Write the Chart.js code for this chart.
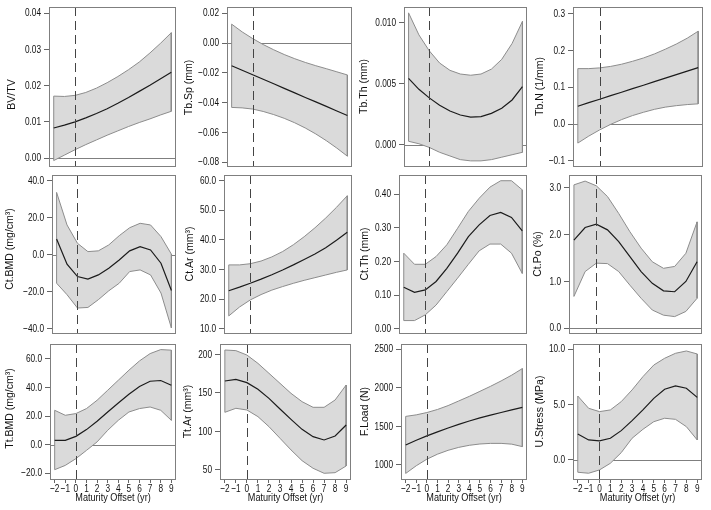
<!DOCTYPE html>
<html>
<head>
<meta charset="utf-8">
<script src="https://cdn.jsdelivr.net/npm/chart.js@4/dist/chart.umd.min.js"></script>
<style>
  html, body { margin: 0; padding: 0; background: #fff; }
  #fig { position: relative; width: 711px; height: 510px; overflow: hidden; }
  #fig canvas { position: absolute; }
</style>
</head>
<body>
<div id="fig"></div>
<script>
// maturity offset (yr) at which the fitted curves were read
const offsets = [-2, -1, 0, 1, 2, 3, 4, 5, 6, 7, 8, 9];
const xTicks = [-2, -1, 0, 1, 2, 3, 4, 5, 6, 7, 8, 9];
const xTitle = "Maturity Offset (yr)";

const bvtvFit = [0.0083, 0.0091, 0.0100, 0.0111, 0.0123, 0.0136, 0.0151, 0.0167, 0.0184, 0.0201, 0.0219, 0.0237];
const bvtvHi  = [0.0171, 0.0170, 0.0173, 0.0181, 0.0193, 0.0208, 0.0225, 0.0244, 0.0265, 0.0290, 0.0317, 0.0346];
const bvtvLo  = [-0.0007, 0.0008, 0.0023, 0.0037, 0.0050, 0.0063, 0.0075, 0.0087, 0.0098, 0.0108, 0.0119, 0.0129];
const bvtvTicks = [0, 0.01, 0.02, 0.03, 0.04];

const tbspFit = [-0.0152, -0.0182, -0.0213, -0.0243, -0.0273, -0.0304, -0.0334, -0.0365, -0.0395, -0.0425, -0.0456, -0.0486];
const tbspHi  = [0.0127, 0.0075, 0.0030, -0.0010, -0.0045, -0.0077, -0.0105, -0.0130, -0.0152, -0.0172, -0.0193, -0.0214];
const tbspLo  = [-0.0432, -0.0435, -0.0443, -0.0459, -0.0480, -0.0505, -0.0535, -0.0570, -0.0610, -0.0655, -0.0705, -0.0759];
const tbspTicks = [-0.08, -0.06, -0.04, -0.02, 0, 0.02];

const tbthFit = [0.00545, 0.00455, 0.00385, 0.00325, 0.00278, 0.00245, 0.00228, 0.00232, 0.00258, 0.00300, 0.00368, 0.00477];
const tbthHi  = [0.0108, 0.0090, 0.0077, 0.0067, 0.0061, 0.0058, 0.0057, 0.0058, 0.0062, 0.0070, 0.0083, 0.0101];
const tbthLo  = [0.0003, 0.0001, -0.0002, -0.0006, -0.0009, -0.0012, -0.0013, -0.0013, -0.0012, -0.0010, -0.0008, -0.0006];
const tbthTicks = [0, 0.005, 0.010];

const tbnFit = [0.0485, 0.0581, 0.0676, 0.0772, 0.0867, 0.0963, 0.1058, 0.1154, 0.1250, 0.1345, 0.1441, 0.1537];
const tbnHi  = [0.151, 0.151, 0.153, 0.157, 0.163, 0.171, 0.180, 0.191, 0.204, 0.218, 0.234, 0.253];
const tbnLo  = [-0.052, -0.033, -0.016, -0.001, 0.012, 0.023, 0.032, 0.040, 0.046, 0.050, 0.053, 0.055];
const tbnTicks = [-0.1, 0, 0.1, 0.2, 0.3];

const ctbmdFit = [8.6, -5.0, -11.7, -13.1, -10.8, -7.2, -2.7, 2.2, 4.5, 2.7, -4.5, -19.2];
const ctbmdHi  = [33.8, 16.2, 6.3, 1.8, 2.2, 5.4, 10.4, 14.7, 17.1, 16.2, 9.9, 0.4];
const ctbmdLo  = [-15.3, -21.5, -28.7, -28.4, -24.2, -19.4, -15.3, -9.0, -8.1, -10.8, -20.6, -39.5];
const ctbmdTicks = [-40, -20, 0, 20, 40];

const ctarFit = [22.9, 24.1, 25.4, 26.8, 28.3, 29.9, 31.6, 33.4, 35.3, 37.4, 39.9, 42.6];
const ctarHi  = [31.6, 31.6, 32.0, 32.9, 34.3, 36.1, 38.4, 41.1, 44.1, 47.4, 51.0, 54.9];
const ctarLo  = [14.4, 17.4, 19.8, 21.6, 23.1, 24.3, 25.4, 26.4, 27.3, 28.2, 29.1, 29.9];
const ctarTicks = [10, 20, 30, 40, 50, 60];

const ctthFit = [0.124, 0.109, 0.116, 0.141, 0.180, 0.225, 0.274, 0.309, 0.337, 0.346, 0.331, 0.291];
const ctthHi  = [0.225, 0.192, 0.192, 0.215, 0.250, 0.299, 0.349, 0.388, 0.421, 0.440, 0.440, 0.413];
const ctthLo  = [0.025, 0.025, 0.042, 0.071, 0.111, 0.151, 0.192, 0.232, 0.252, 0.252, 0.225, 0.165];
const ctthTicks = [0, 0.1, 0.2, 0.3, 0.4];

const ctpoFit = [1.88, 2.15, 2.22, 2.10, 1.85, 1.53, 1.21, 0.96, 0.80, 0.78, 1.00, 1.42];
const ctpoHi  = [3.06, 3.14, 3.04, 2.81, 2.45, 2.06, 1.71, 1.42, 1.28, 1.32, 1.60, 2.27];
const ctpoLo  = [0.68, 1.21, 1.39, 1.38, 1.21, 0.92, 0.64, 0.39, 0.28, 0.25, 0.36, 0.64];
const ctpoTicks = [0, 1, 2, 3];

const ttbmdFit = [3.0, 3.0, 5.8, 10.5, 16.3, 22.8, 29.1, 35.2, 40.6, 44.3, 44.8, 41.5];
const ttbmdHi  = [24.0, 20.5, 21.7, 25.2, 31.0, 38.0, 45.0, 52.0, 58.5, 63.6, 66.4, 66.0];
const ttbmdLo  = [-17.5, -14.5, -9.8, -4.0, 1.9, 10.0, 17.0, 22.8, 25.2, 26.3, 24.0, 17.0];
const ttbmdTicks = [-20, 0, 20, 40, 60];

const ttarFit = [165.4, 167.6, 163.3, 154.6, 142.9, 129.1, 115.7, 102.7, 93.2, 88.9, 94.1, 108.3];
const ttarHi  = [205.6, 204.8, 199.1, 188.3, 175.4, 162.4, 149.4, 138.6, 131.3, 131.3, 140.8, 160.2];
const ttarLo  = [124.8, 130.0, 127.8, 119.2, 106.2, 91.1, 76.0, 62.1, 52.2, 45.7, 46.5, 55.2];
const ttarTicks = [50, 100, 150, 200];

const floadFit = [1259, 1320, 1377, 1430, 1480, 1527, 1570, 1610, 1647, 1681, 1715, 1748];
const floadHi  = [1630, 1650, 1680, 1720, 1770, 1830, 1890, 1955, 2020, 2090, 2165, 2250];
const floadLo  = [890, 990, 1075, 1140, 1190, 1228, 1255, 1272, 1280, 1280, 1270, 1238];
const floadTicks = [1000, 1500, 2000, 2500];

const ustressFit = [2.35, 1.81, 1.72, 1.96, 2.65, 3.55, 4.52, 5.57, 6.39, 6.69, 6.48, 5.66];
const ustressHi  = [5.78, 4.67, 4.37, 4.52, 5.27, 6.33, 7.53, 8.58, 9.19, 9.64, 9.85, 9.58];
const ustressLo  = [-1.11, -1.20, -0.90, -0.30, 0.66, 1.96, 2.77, 3.46, 3.77, 3.67, 3.01, 1.81];
const ustressTicks = [0, 5, 10];

const X_MIN = -2.44;
const X_MAX = 9.44;

// box edges in page pixels per row: [top, bottom]
const rows = [[7, 166], [175, 333], [344, 479]];

// gap = distance of the y title from the box, shift = title offset along the axis
const panels = [
  { title: "BV/TV",           fit: bvtvFit,    hi: bvtvHi,    lo: bvtvLo,    ticks: bvtvTicks,    dec: 2, min: -0.0022, max: 0.0417, left: 49,  right: 176, gap: 37, shift: 8,  zero: true },
  { title: "Tb.Sp (mm)",      fit: tbspFit,    hi: tbspHi,    lo: tbspLo,    ticks: tbspTicks,    dec: 2, min: -0.0825, max: 0.0242, left: 227, right: 352, gap: 38, shift: 1,  zero: true },
  { title: "Tb.Th (mm)",      fit: tbthFit,    hi: tbthHi,    lo: tbthLo,    ticks: tbthTicks,    dec: 3, min: -0.00172, max: 0.01128, left: 404, right: 527, gap: 40, shift: 0, zero: true },
  { title: "Tb.N (1/mm)",     fit: tbnFit,     hi: tbnHi,     lo: tbnLo,     ticks: tbnTicks,     dec: 1, min: -0.1145, max: 0.319, left: 573, right: 703, gap: 33, shift: 0,  zero: true },
  { title: "Ct.BMD (mg/cm³)", fit: ctbmdFit,   hi: ctbmdHi,   lo: ctbmdLo,   ticks: ctbmdTicks,   dec: 1, min: -42.2, max: 43.2, left: 52,  right: 176, gap: 42, shift: -5,  zero: true },
  { title: "Ct.Ar (mm³)",     fit: ctarFit,    hi: ctarHi,    lo: ctarLo,    ticks: ctarTicks,    dec: 1, min: 8.65, max: 61.9, left: 224, right: 352, gap: 34, shift: 0,   zero: false },
  { title: "Ct.Th (mm)",      fit: ctthFit,    hi: ctthHi,    lo: ctthLo,    ticks: ctthTicks,    dec: 2, min: -0.0119, max: 0.457, left: 399, right: 527, gap: 34, shift: 0, zero: false },
  { title: "Ct.Po (%)",       fit: ctpoFit,    hi: ctpoHi,    lo: ctpoLo,    ticks: ctpoTicks,    dec: 1, min: -0.10, max: 3.27, left: 569, right: 702, gap: 31, shift: 0,   zero: true },
  { title: "Tt.BMD (mg/cm³)", fit: ttbmdFit,   hi: ttbmdHi,   lo: ttbmdLo,   ticks: ttbmdTicks,   dec: 1, min: -24.0, max: 70.3, left: 50,  right: 176, gap: 40, shift: -3,  zero: true },
  { title: "Tt.Ar (mm³)",     fit: ttarFit,    hi: ttarHi,    lo: ttarLo,    ticks: ttarTicks,    dec: 0, min: 38.3, max: 213.4, left: 220, right: 351, gap: 32, shift: 0,  zero: false },
  { title: "F.Load (N)",      fit: floadFit,   hi: floadHi,   lo: floadLo,   ticks: floadTicks,   dec: 0, min: 818, max: 2569, left: 401, right: 527, gap: 36, shift: 0,    zero: false },
  { title: "U.Stress (MPa)",  fit: ustressFit, hi: ustressHi, lo: ustressLo, ticks: ustressTicks, dec: 1, min: -1.72, max: 10.48, left: 573, right: 702, gap: 33, shift: 0,  zero: true }
];

const FONT = '"Liberation Sans", Arial, Helvetica, sans-serif';
const TICK_FONT = 11.5;
const TITLE_FONT = 10.5;
const TICK_SQUEEZE = 0.72;   // numbers in the source are set narrow
const XTITLE_SQUEEZE = 0.87;
const BOX = "#7f7f7f";
const BAND_FILL = "#dadada";
const BAND_EDGE = "#8c8c8c";

Chart.defaults.font.family = FONT;
Chart.defaults.font.size = TITLE_FONT;
Chart.defaults.color = "#111";

function fmt(value, dec) {
  const sign = value < -1e-12 ? "\u2212" : "";
  return sign + Math.abs(value).toFixed(dec);
}

function points(ys) {
  return offsets.map((x, i) => ({ x, y: ys[i] }));
}

// closed outline of the confidence band: upper edge, then lower edge back
function outline(hi, lo) {
  const upper = points(hi);
  const lower = points(lo).reverse();
  return upper.concat(lower, [upper[0]]);
}

function drawText(ctx, text, x, y, squeeze, rotate) {
  ctx.save();
  ctx.translate(x, y);
  if (rotate) ctx.rotate(-Math.PI / 2);
  ctx.scale(squeeze, 1);
  ctx.fillText(text, 0, 0);
  ctx.restore();
}

const decor = {
  id: "decor",
  beforeDatasetsDraw(chart, args, opts) {
    if (!opts.zero) return;
    const { ctx, chartArea: a, scales } = chart;
    const y = Math.round(scales.y.getPixelForValue(0)) + 0.5;
    ctx.save();
    ctx.strokeStyle = BOX;
    ctx.lineWidth = 1;
    ctx.beginPath();
    ctx.moveTo(a.left, y);
    ctx.lineTo(a.right, y);
    ctx.stroke();
    ctx.restore();
  },
  afterDatasetsDraw(chart) {
    const { ctx, chartArea: a, scales } = chart;
    const x = Math.round(scales.x.getPixelForValue(0)) + 0.5;
    ctx.save();
    ctx.strokeStyle = "#444";
    ctx.lineWidth = 1;
    ctx.setLineDash([9, 5]);
    ctx.beginPath();
    ctx.moveTo(x, a.top);
    ctx.lineTo(x, a.bottom);
    ctx.stroke();
    ctx.restore();
  },
  afterDraw(chart, args, opts) {
    const { ctx, chartArea: a, scales } = chart;
    ctx.save();
    ctx.strokeStyle = BOX;
    ctx.lineWidth = 1;
    ctx.strokeRect(Math.round(a.left) + 0.5, Math.round(a.top) + 0.5,
      Math.round(a.right - a.left) - 1, Math.round(a.bottom - a.top));

    ctx.fillStyle = "#111";
    ctx.font = `${TICK_FONT}px ${FONT}`;
    ctx.textAlign = "right";
    ctx.textBaseline = "middle";
    opts.yTicks.forEach(v => {
      drawText(ctx, fmt(v, opts.dec), a.left - 8, scales.y.getPixelForValue(v), TICK_SQUEEZE, false);
    });

    if (opts.xAxis) {
      ctx.textAlign = "center";
      xTicks.forEach(v => {
        drawText(ctx, fmt(v, 0), scales.x.getPixelForValue(v), a.bottom + 10, TICK_SQUEEZE, false);
      });
      ctx.font = `${TITLE_FONT}px ${FONT}`;
      drawText(ctx, xTitle, (a.left + a.right) / 2, a.bottom + 19, XTITLE_SQUEEZE, false);
    }

    ctx.font = `${TITLE_FONT}px ${FONT}`;
    ctx.textAlign = "center";
    drawText(ctx, opts.title, a.left - opts.gap, (a.top + a.bottom) / 2 + opts.shift, 1, true);
    ctx.restore();
  }
};

function makePanel(p, idx) {
  const row = Math.floor(idx / 4);
  const [top, bottom] = rows[row];
  const bottomRow = row === 2;
  const yw = p.gap + 8;
  const padTop = 8;
  const padRight = 8;
  const xh = bottomRow ? 28 : 0;
  const padBottom = bottomRow ? 0 : 8;

  const canvas = document.createElement("canvas");
  canvas.width = yw + (p.right - p.left) + padRight;
  canvas.height = padTop + (bottom - top) + xh + padBottom;
  canvas.style.left = (p.left - yw) + "px";
  canvas.style.top = (top - padTop) + "px";
  canvas.style.width = canvas.width + "px";
  canvas.style.height = canvas.height + "px";
  document.getElementById("fig").appendChild(canvas);

  new Chart(canvas, {
    type: "line",
    data: {
      datasets: [
        {
          data: points(p.fit),
          borderColor: "#1b1b1b",
          borderWidth: 1.2,
          pointRadius: 0,
          tension: 0,
          fill: false
        },
        {
          data: outline(p.hi, p.lo),
          borderColor: BAND_EDGE,
          borderWidth: 1,
          pointRadius: 0,
          tension: 0,
          fill: false
        },
        {
          data: points(p.hi),
          borderColor: "rgba(0,0,0,0)",
          backgroundColor: BAND_FILL,
          borderWidth: 0,
          pointRadius: 0,
          tension: 0,
          fill: "+1"
        },
        {
          data: points(p.lo),
          borderColor: "rgba(0,0,0,0)",
          borderWidth: 0,
          pointRadius: 0,
          tension: 0,
          fill: false
        }
      ]
    },
    options: {
      responsive: false,
      animation: false,
      devicePixelRatio: 1,
      layout: { padding: { top: padTop, right: padRight, bottom: padBottom, left: 0 } },
      plugins: {
        legend: { display: false },
        tooltip: { enabled: false },
        decor: { zero: p.zero, yTicks: p.ticks, dec: p.dec, xAxis: bottomRow, title: p.title, gap: p.gap, shift: p.shift }
      },
      scales: {
        x: {
          type: "linear",
          display: bottomRow,
          min: X_MIN,
          max: X_MAX,
          afterBuildTicks: scale => { scale.ticks = xTicks.map(v => ({ value: v })); },
          afterFit: scale => { scale.height = xh; },
          ticks: { display: false, autoSkip: false, maxRotation: 0 },
          grid: { drawOnChartArea: false, drawTicks: true, tickLength: 4, color: "#666" },
          border: { display: false },
          title: { display: false }
        },
        y: {
          type: "linear",
          min: p.min,
          max: p.max,
          afterBuildTicks: scale => { scale.ticks = p.ticks.map(v => ({ value: v })); },
          afterFit: scale => { scale.width = yw; },
          ticks: { display: false },
          grid: { drawOnChartArea: false, drawTicks: true, tickLength: 5, color: "#666" },
          border: { display: false },
          title: { display: false }
        }
      }
    },
    plugins: [decor]
  });
}

panels.forEach(makePanel);
</script>
</body>
</html>
